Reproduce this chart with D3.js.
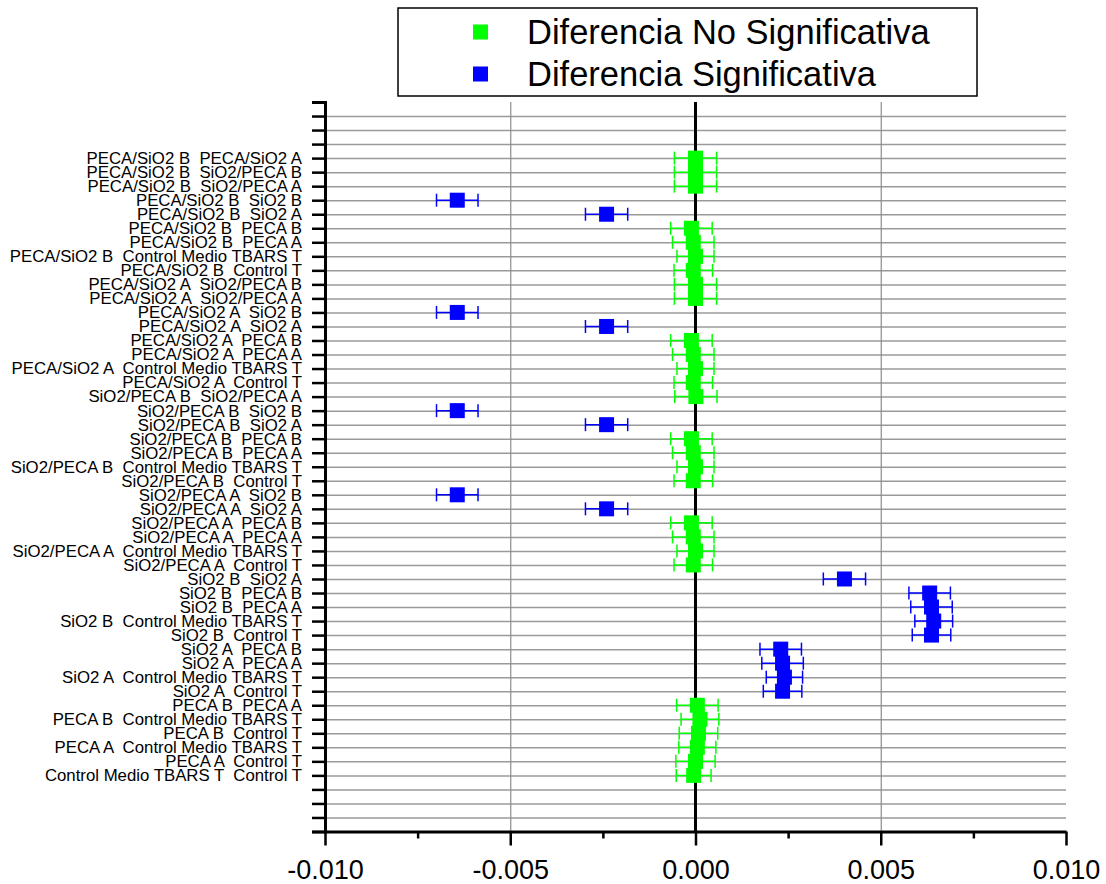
<!DOCTYPE html>
<html lang="es">
<head>
    <meta charset="UTF-8">
    <title>Comparaciones por pares</title>
    <script src="https://d3js.org/d3.v7.min.js"></script>
    <style>
        body { margin: 0; background: #fff; }
        svg { display: block; font-family: Arial, "Liberation Sans", sans-serif; }
        .y-axis text { font-size: 16.8px; fill: #000; white-space: pre; }
        .x-axis text { font-size: 27px; fill: #000; }
        .legend text { font-size: 34.5px; fill: #000; }
    </style>
</head>
<body>
<svg width="1106" height="884"></svg>
<script>
    // comparisons, top to bottom
    const labels = [
        "PECA/SiO2 B  PECA/SiO2 A", "PECA/SiO2 B  SiO2/PECA B", "PECA/SiO2 B  SiO2/PECA A",
        "PECA/SiO2 B  SiO2 B", "PECA/SiO2 B  SiO2 A", "PECA/SiO2 B  PECA B", "PECA/SiO2 B  PECA A",
        "PECA/SiO2 B  Control Medio TBARS T", "PECA/SiO2 B  Control T",
        "PECA/SiO2 A  SiO2/PECA B", "PECA/SiO2 A  SiO2/PECA A", "PECA/SiO2 A  SiO2 B",
        "PECA/SiO2 A  SiO2 A", "PECA/SiO2 A  PECA B", "PECA/SiO2 A  PECA A",
        "PECA/SiO2 A  Control Medio TBARS T", "PECA/SiO2 A  Control T",
        "SiO2/PECA B  SiO2/PECA A", "SiO2/PECA B  SiO2 B", "SiO2/PECA B  SiO2 A",
        "SiO2/PECA B  PECA B", "SiO2/PECA B  PECA A", "SiO2/PECA B  Control Medio TBARS T",
        "SiO2/PECA B  Control T",
        "SiO2/PECA A  SiO2 B", "SiO2/PECA A  SiO2 A", "SiO2/PECA A  PECA B", "SiO2/PECA A  PECA A",
        "SiO2/PECA A  Control Medio TBARS T", "SiO2/PECA A  Control T",
        "SiO2 B  SiO2 A", "SiO2 B  PECA B", "SiO2 B  PECA A", "SiO2 B  Control Medio TBARS T",
        "SiO2 B  Control T",
        "SiO2 A  PECA B", "SiO2 A  PECA A", "SiO2 A  Control Medio TBARS T", "SiO2 A  Control T",
        "PECA B  PECA A", "PECA B  Control Medio TBARS T", "PECA B  Control T",
        "PECA A  Control Medio TBARS T", "PECA A  Control T",
        "Control Medio TBARS T  Control T"
    ];
    const meanDiff = [
        0.00000, 0.00000, 0.00000, -0.00643, -0.00240, -0.00011, -0.00006, 0.00000, -0.00006,
        0.00000, 0.00000, -0.00643, -0.00240, -0.00011, -0.00006, 0.00000, -0.00006,
        0.00001, -0.00643, -0.00240, -0.00011, -0.00006, 0.00000, -0.00006,
        -0.00643, -0.00240, -0.00011, -0.00006, 0.00000, -0.00006,
        0.00402, 0.00632, 0.00637, 0.00643, 0.00637,
        0.00230, 0.00235, 0.00240, 0.00235,
        0.00005, 0.00012, 0.00008,
        0.00005, 0.00000,
        -0.00005
    ];
    const errHalf = [
        0.00057, 0.00057, 0.00057, 0.00056, 0.00057, 0.00056, 0.00056, 0.00050, 0.00052,
        0.00057, 0.00057, 0.00056, 0.00057, 0.00056, 0.00056, 0.00050, 0.00052,
        0.00057, 0.00056, 0.00057, 0.00056, 0.00056, 0.00050, 0.00052,
        0.00056, 0.00057, 0.00056, 0.00056, 0.00050, 0.00052,
        0.00057, 0.00056, 0.00056, 0.00051, 0.00052,
        0.00056, 0.00056, 0.00049, 0.00052,
        0.00056, 0.00051, 0.00052,
        0.00050, 0.00053,
        0.00047
    ];
    // 1 = significativa
    const significant = [
        0, 0, 0, 1, 1, 0, 0, 0, 0,
        0, 0, 1, 1, 0, 0, 0, 0,
        0, 1, 1, 0, 0, 0, 0,
        1, 1, 0, 0, 0, 0,
        1, 1, 1, 1, 1,
        1, 1, 1, 1,
        0, 0, 0,
        0, 0,
        0
    ];
    const xMajorTicks = [-0.010, -0.005, 0.000, 0.005, 0.010];
    const xMinorTicks = [-0.0075, -0.0025, 0.0025, 0.0075];
    const legendItems = ["Diferencia No Significativa", "Diferencia Significativa"];

    const colors = ["#00ff00", "#0000ff"];
    const padRows = 4;
    const nSlots = labels.length + 2 * padRows - 1;

    const plotLeft = 325, plotRight = 1066, plotTop = 102, plotBottom = 831.5;
    const svg = d3.select("svg");

    const x = d3.scaleLinear().domain([-0.010, 0.010]).range([plotLeft, plotRight]);
    const y = d3.scaleLinear().domain([0, nSlots]).range([plotTop, plotBottom]);

    const data = labels.map((label, i) => ({
        label, mean: meanDiff[i], err: errHalf[i], sig: significant[i], slot: i + padRows
    }));

    // horizontal grid
    svg.append("g")
        .attr("transform", `translate(${plotLeft},0)`)
        .call(d3.axisLeft(y).tickValues(d3.range(1, nSlots)).tickSize(-(plotRight - plotLeft)).tickFormat(""))
        .call(g => g.select(".domain").remove())
        .selectAll("line").attr("stroke", "#9a9a9a").attr("stroke-width", 1.5);

    // vertical grid
    svg.append("g")
        .attr("transform", `translate(0,${plotBottom})`)
        .call(d3.axisBottom(x).tickValues([-0.005, 0.005]).tickSize(-(plotBottom - plotTop)).tickFormat(""))
        .call(g => g.select(".domain").remove())
        .selectAll("line").attr("stroke", "#8c8c8c").attr("stroke-width", 1.2);

    // zero line
    svg.append("line")
        .attr("x1", x(0)).attr("x2", x(0))
        .attr("y1", plotTop).attr("y2", plotBottom)
        .attr("stroke", "#000").attr("stroke-width", 3);

    // error bars
    const bars = svg.append("g").selectAll("g").data(data).enter().append("g")
        .attr("stroke", d => colors[d.sig]).attr("stroke-width", 1.5);
    bars.append("line")
        .attr("x1", d => x(d.mean - d.err)).attr("x2", d => x(d.mean + d.err))
        .attr("y1", d => y(d.slot)).attr("y2", d => y(d.slot));
    bars.append("line")
        .attr("x1", d => x(d.mean - d.err)).attr("x2", d => x(d.mean - d.err))
        .attr("y1", d => y(d.slot) - 6.5).attr("y2", d => y(d.slot) + 6.5);
    bars.append("line")
        .attr("x1", d => x(d.mean + d.err)).attr("x2", d => x(d.mean + d.err))
        .attr("y1", d => y(d.slot) - 6.5).attr("y2", d => y(d.slot) + 6.5);

    // square markers
    const sq = 15;
    svg.append("g").selectAll("rect").data(data).enter().append("rect")
        .attr("x", d => x(d.mean) - sq / 2)
        .attr("y", d => y(d.slot) - sq / 2)
        .attr("width", sq).attr("height", sq)
        .attr("fill", d => colors[d.sig]);

    // y axis
    svg.append("g")
        .attr("class", "y-axis")
        .attr("transform", `translate(${plotLeft},0)`)
        .call(d3.axisLeft(y).tickValues(d3.range(0, nSlots + 1)).tickSize(13).tickPadding(10)
            .tickFormat(v => {
                const d = data.find(e => e.slot === v);
                return d ? d.label : "";
            }))
        .call(g => g.select(".domain").attr("stroke-width", 3))
        .call(g => g.selectAll(".tick line").attr("stroke-width", 2.5));

    // x axis
    svg.append("g")
        .attr("transform", `translate(0,${plotBottom})`)
        .call(d3.axisBottom(x).tickValues(xMinorTicks).tickSize(7).tickFormat(""))
        .call(g => g.select(".domain").remove())
        .selectAll("line").attr("stroke-width", 2.5);

    svg.append("g")
        .attr("class", "x-axis")
        .attr("transform", `translate(0,${plotBottom})`)
        .call(d3.axisBottom(x).tickValues(xMajorTicks).tickSize(14).tickSizeOuter(0).tickPadding(14)
            .tickFormat(d3.format(".3f")))
        .call(g => g.select(".domain").attr("stroke-width", 3))
        .call(g => g.selectAll(".tick line").attr("stroke-width", 2.5))
        .selectAll("text").text(d => d3.format(".3f")(d).replace("−", "-"));

    // legend
    const legend = svg.append("g").attr("class", "legend");
    legend.append("rect")
        .attr("x", 398).attr("y", 8).attr("width", 579).attr("height", 88)
        .attr("fill", "#fff").attr("stroke", "#000").attr("stroke-width", 1.5);
    legendItems.forEach((name, i) => {
        const cy = 32 + i * 42;
        legend.append("rect")
            .attr("x", 473).attr("y", cy - 7.5).attr("width", 15).attr("height", 15)
            .attr("fill", colors[i]);
        legend.append("text")
            .attr("x", 527).attr("y", cy).attr("dy", "0.36em")
            .text(name);
    });
</script>
</body>
</html>
